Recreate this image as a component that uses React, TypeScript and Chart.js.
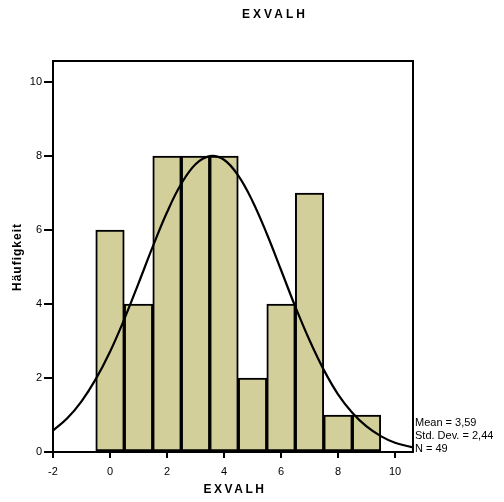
import React, { useEffect, useRef } from "react";
import { Chart, registerables } from "chart.js";

Chart.register(...registerables);

const binCenters = [0, 1, 2, 3, 4, 5, 6, 7, 8, 9];
const binCounts = [6, 4, 8, 8, 8, 2, 4, 7, 1, 1];
const curveX = [-2, -1.5, -1, -0.5, 0, 0.5, 1, 1.5, 2, 2.5, 3, 3.5, 4, 4.5, 5, 5.5, 6, 6.5, 7, 7.5, 8, 8.5, 9, 9.5, 10, 10.5, 10.6];
const curveY = [0.58, 0.91, 1.37, 1.97, 2.71, 3.59, 4.56, 5.55, 6.48, 7.25, 7.78, 8.0, 7.9, 7.47, 6.78, 5.9, 4.92, 3.93, 3.02, 2.22, 1.56, 1.06, 0.69, 0.43, 0.25, 0.15, 0.13];
const xTicks = [-2, 0, 2, 4, 6, 8, 10];
const yTicks = [0, 2, 4, 6, 8, 10];
const titleText = "EXVALH";
const xTitle = "EXVALH";
const yTitle = "Häufigkeit";
const statsLines = ["Mean = 3,59", "Std. Dev. = 2,44", "N = 49"];

const FONT = "'Liberation Sans', Arial, sans-serif";

export default function App() {
  const ref = useRef<HTMLCanvasElement | null>(null);
  useEffect(() => {
    if (!ref.current) return;
    const textPlugin = {
      id: "textPlugin",
      afterDraw(chart: any) {
        const ctx = chart.ctx as CanvasRenderingContext2D;
        const ca = chart.chartArea;
        const xs = chart.scales.x;
        const ys = chart.scales.y;
        ctx.save();
        ctx.strokeStyle = "#000";
        ctx.lineWidth = 2;
        ctx.strokeRect(ca.left, ca.top, ca.right - ca.left, ca.bottom - ca.top);
        ctx.beginPath();
        xTicks.forEach((v) => {
          const px = xs.getPixelForValue(v);
          ctx.moveTo(px, ca.bottom);
          ctx.lineTo(px, ca.bottom + 6);
        });
        yTicks.forEach((v) => {
          const py = ys.getPixelForValue(v);
          ctx.moveTo(ca.left, py);
          ctx.lineTo(ca.left - 9, py);
        });
        ctx.stroke();
        ctx.fillStyle = "#000";
        ctx.textBaseline = "middle";
        // title
        ctx.font = `bold 12px ${FONT}`;
        (ctx as any).letterSpacing = "3px";
        ctx.textAlign = "center";
        ctx.fillText(titleText, 275, 15);
        // x title
        (ctx as any).letterSpacing = "2.5px";
        ctx.fillText(xTitle, 235, 490);
        // y title
        (ctx as any).letterSpacing = "1px";
        ctx.save();
        ctx.translate(18, 257);
        ctx.rotate(-Math.PI / 2);
        ctx.fillText(yTitle, 0, 0);
        ctx.restore();
        (ctx as any).letterSpacing = "0px";
        // stats
        ctx.font = `11px ${FONT}`;
        ctx.textAlign = "left";
        statsLines.forEach((s, i) => ctx.fillText(s, 415, 423 + i * 13));
        ctx.restore();
      },
    };
    const chart = new Chart(ref.current, {
      type: "bar",
      data: {
        datasets: [
          {
            type: "line",
            data: curveX.map((x, i) => ({ x, y: curveY[i] })),
            borderColor: "#000",
            borderWidth: 2.2,
            pointRadius: 0,
            tension: 0.4,
            fill: false,
            order: 0,
          } as any,
          {
            type: "bar",
            data: binCenters.map((x, i) => ({ x, y: binCounts[i] })),
            backgroundColor: "#d3cf9b",
            borderColor: "#000",
            borderWidth: 2,
            borderSkipped: false,
            barPercentage: 1,
            categoryPercentage: 1,
            grouped: false,
            order: 1,
          } as any,
        ],
      },
      options: {
        animation: false,
        responsive: false,
        maintainAspectRatio: false,
        layout: { padding: { top: 61, right: 91, left: 0, bottom: 0 } },
        plugins: { legend: { display: false }, tooltip: { enabled: false } },
        scales: {
          x: {
            type: "linear",
            min: -2,
            max: 10.63,
            offset: false,
            afterBuildTicks: (axis: any) => {
              axis.ticks = xTicks.map((v) => ({ value: v }));
            },
            afterFit: (axis: any) => {
              axis.height = 50;
            },
            grid: { offset: false, drawOnChartArea: false, drawTicks: true, tickLength: 6, color: "#000", lineWidth: 2 },
            border: { display: false },
            ticks: { color: "#000", font: { family: FONT, size: 11 }, padding: 7, maxRotation: 0, autoSkip: false },
          },
          y: {
            type: "linear",
            min: 0,
            max: 10.57,
            afterBuildTicks: (axis: any) => {
              axis.ticks = yTicks.map((v) => ({ value: v }));
            },
            afterFit: (axis: any) => {
              axis.width = 53;
            },
            grid: { offset: false, drawOnChartArea: false, drawTicks: true, tickLength: 9, color: "#000", lineWidth: 2 },
            border: { display: false },
            ticks: { color: "#000", font: { family: FONT, size: 11 }, padding: 2, autoSkip: false },
          },
        },
      },
      plugins: [textPlugin],
    } as any);
    return () => chart.destroy();
  }, []);
  return (
    <div style={{ position: "fixed", left: 0, top: 0, width: 504, height: 502, background: "#fff" }}>
      <canvas ref={ref} width={504} height={502} style={{ width: 504, height: 502, display: "block" }} />
    </div>
  );
}
